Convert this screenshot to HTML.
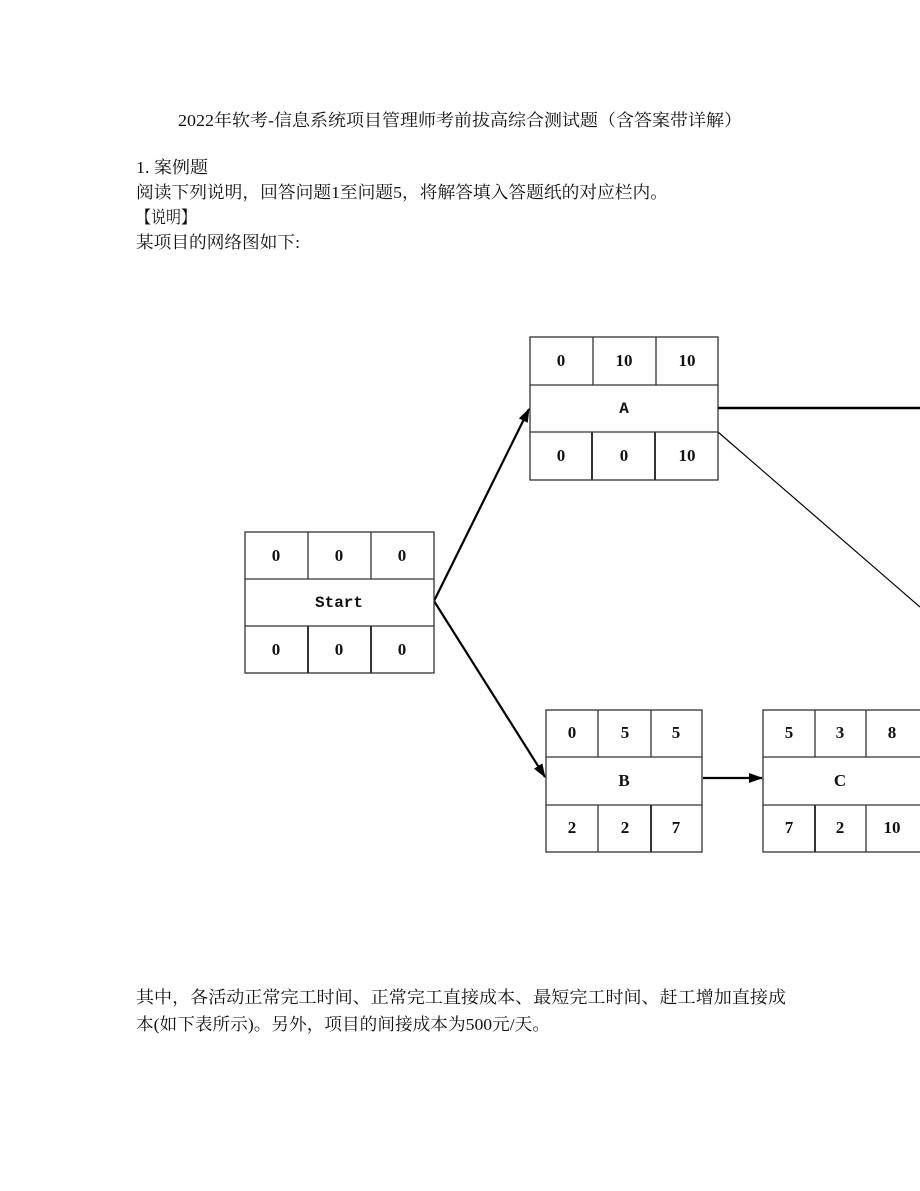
<!DOCTYPE html>
<html><head><meta charset="utf-8"><style>
html,body{margin:0;padding:0;background:#fff;}
svg{display:block;}
.t{font-family:"Liberation Serif","Noto Serif CJK SC",serif;font-size:17px;fill:#111;}
.n{font-family:"Liberation Serif","DejaVu Serif",serif;font-size:17px;font-weight:bold;fill:#111;text-anchor:middle;}
.m{font-family:"Liberation Mono","DejaVu Sans Mono",monospace;font-size:16px;font-weight:bold;fill:#111;text-anchor:middle;}
</style></head><body>
<svg width="920" height="1191" viewBox="0 0 920 1191" xmlns="http://www.w3.org/2000/svg">
<text class="t" x="178" y="126" textLength="564" lengthAdjust="spacingAndGlyphs">2022年软考-信息系统项目管理师考前拔高综合测试题（含答案带详解）</text>
<text class="t" x="136" y="173" textLength="72" lengthAdjust="spacingAndGlyphs">1. 案例题</text>
<text class="t" x="136" y="198" textLength="532" lengthAdjust="spacingAndGlyphs">阅读下列说明，回答问题1至问题5，将解答填入答题纸的对应栏内。</text>
<text class="t" x="136" y="223" textLength="60" lengthAdjust="spacingAndGlyphs">【说明】</text>
<text class="t" x="136" y="248" textLength="164" lengthAdjust="spacingAndGlyphs">某项目的网络图如下:</text>
<text class="t" x="136" y="1003" textLength="650" lengthAdjust="spacingAndGlyphs">其中，各活动正常完工时间、正常完工直接成本、最短完工时间、赶工增加直接成</text>
<text class="t" x="136" y="1030" textLength="414" lengthAdjust="spacingAndGlyphs">本(如下表所示)。另外，项目的间接成本为500元/天。</text>

<defs><marker id="ar" markerWidth="14" markerHeight="10" refX="13" refY="5" orient="auto" markerUnits="userSpaceOnUse"><path d="M0,0 L14,5 L0,10 Z" fill="#000"/></marker></defs>
<g stroke="#000" fill="none">
<line x1="434" y1="601" x2="529" y2="409" stroke-width="2.2" marker-end="url(#ar)"/>
<line x1="434" y1="601" x2="545" y2="777" stroke-width="2.2" marker-end="url(#ar)"/>
<line x1="703" y1="778" x2="762" y2="778" stroke-width="2.2" marker-end="url(#ar)"/>
<line x1="718" y1="408" x2="920" y2="408" stroke-width="2.5"/>
<line x1="718" y1="432" x2="920" y2="607" stroke-width="1.2"/>
</g>
<g stroke="#333" stroke-width="1.3" fill="#fff">
<rect x="245" y="532" width="189" height="141"/><line x1="245" y1="579" x2="434" y2="579"/><line x1="245" y1="626" x2="434" y2="626"/>
<line x1="308" y1="532" x2="308" y2="579"/><line x1="371" y1="532" x2="371" y2="579"/><line x1="308" y1="626" x2="308" y2="673" stroke-width="2"/><line x1="371" y1="626" x2="371" y2="673" stroke-width="2"/>
<rect x="530" y="337" width="188" height="143"/><line x1="530" y1="385" x2="718" y2="385"/><line x1="530" y1="432" x2="718" y2="432"/>
<line x1="593" y1="337" x2="593" y2="385"/><line x1="656" y1="337" x2="656" y2="385"/><line x1="592" y1="432" x2="592" y2="480" stroke-width="2"/><line x1="655" y1="432" x2="655" y2="480" stroke-width="2"/>
<rect x="546" y="710" width="156" height="142"/><line x1="546" y1="757" x2="702" y2="757"/><line x1="546" y1="805" x2="702" y2="805"/>
<line x1="598" y1="710" x2="598" y2="757"/><line x1="651" y1="710" x2="651" y2="757"/><line x1="598" y1="805" x2="598" y2="852"/><line x1="651" y1="805" x2="651" y2="852" stroke-width="2"/>
<rect x="763" y="710" width="160" height="142"/><line x1="763" y1="757" x2="923" y2="757"/><line x1="763" y1="805" x2="923" y2="805"/>
<line x1="815" y1="710" x2="815" y2="757"/><line x1="866" y1="710" x2="866" y2="757"/><line x1="815" y1="805" x2="815" y2="852" stroke-width="2"/><line x1="866" y1="805" x2="866" y2="852"/>
</g>
<g class="n">
<text x="276" y="561">0</text><text x="339" y="561">0</text><text x="402" y="561">0</text>
<text x="276" y="655">0</text><text x="339" y="655">0</text><text x="402" y="655">0</text>
<text x="561" y="366">0</text><text x="624" y="366">10</text><text x="687" y="366">10</text>
<text x="561" y="461">0</text><text x="624" y="461">0</text><text x="687" y="461">10</text>
<text x="572" y="738">0</text><text x="625" y="738">5</text><text x="676" y="738">5</text>
<text x="624" y="786">B</text>
<text x="572" y="833">2</text><text x="625" y="833">2</text><text x="676" y="833">7</text>
<text x="789" y="738">5</text><text x="840" y="738">3</text><text x="892" y="738">8</text>
<text x="840" y="786">C</text>
<text x="789" y="833">7</text><text x="840" y="833">2</text><text x="892" y="833">10</text>
</g>
<g class="m">
<text x="339" y="607">Start</text>
<text x="624" y="413">A</text>
</g>
</svg>
</body></html>
